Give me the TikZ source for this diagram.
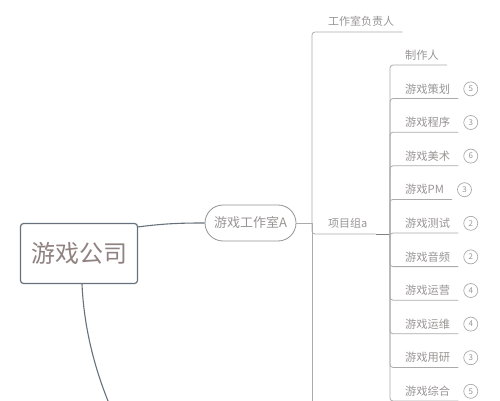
\documentclass[tikz,border=0pt]{standalone}
\usepackage{fontspec}
\setmainfont{Noto Sans CJK SC}
\usetikzlibrary{positioning}

\definecolor{slate}{HTML}{66717B}
\definecolor{linegray}{HTML}{ABABAB}
\definecolor{ink}{HTML}{989494}
\definecolor{rootink}{HTML}{8F8280}

\begin{document}
\begin{tikzpicture}[x=1pt, y=-1pt,
leaf/.style={anchor=south west, inner xsep=8pt, inner ysep=0pt, minimum height=19pt, text=ink, font=\fontsize{11.25}{12}\selectfont},
badge/.style={circle, draw=linegray, line width=0.7pt, minimum size=14pt, inner sep=0pt, text=ink, font=\fontsize{8}{9}\selectfont, right=5pt of #1},
twig/.style={draw=linegray, line width=0.8pt, rounded corners=3pt}]
\useasboundingbox (0,0) rectangle (500,401);
\clip (0,0) rectangle (500,401);
\node[draw=slate, line width=1.2pt, rounded corners=3pt, minimum width=117pt, minimum height=60pt, text=rootink, font=\fontsize{24}{26}\selectfont] (company) at (79,253.5) {游戏公司};
\node[draw=gray!85, line width=0.8pt, rounded corners=18pt, minimum width=91pt, minimum height=36pt, text=ink, font=\fontsize{13}{14}\selectfont] (studio) at (250.5,223) {游戏工作室A};
\coordinate (hub) at (312,223);
\coordinate (hubend) at (312,410);
\coordinate (fork) at (390,234);
\coordinate (rootend) at (114,415);
\node[leaf, minimum height=21pt, font=\fontsize{11}{12}\selectfont] (lead) at (320,32) {工作室负责人};
\node[leaf, minimum height=21pt, font=\fontsize{11}{12}\selectfont] (groupa) at (320,234) {项目组a};
\node[leaf] (maker) at (397,65) {制作人};
% company to studio and down
\draw[slate, line width=1.1pt] ([yshift=-4pt]company.north east) .. controls (165,223.5) and (180,223) .. (studio.west);
\draw[slate, line width=1.1pt] ([xshift=3pt]company.south) .. controls (84,330) and (96,375) .. (rootend);
\draw[twig] (studio.east) -- (hub);
\draw[twig] (hub) |- (lead.south east);
\draw[twig] (hub) |- (groupa.south east);
\draw[twig] (hub) -- (hubend);
\draw[twig, draw=gray] (groupa.south east) -- (fork);
\draw[twig] (fork) |- (maker.south east);
\foreach \name/\num [count=\i] in {游戏策划/5,游戏程序/3,游戏美术/6,游戏PM/3,游戏测试/2,游戏音频/2,游戏运营/4,游戏运维/4,游戏用研/3,游戏综合/5}{
  \node[leaf] (role\i) at (397,{65+33.6*\i}) {\name};
  \node[badge=role\i] (num\i) {\num};
  \draw[twig] (fork) |- (role\i.south east);
}
\end{tikzpicture}
\end{document}
